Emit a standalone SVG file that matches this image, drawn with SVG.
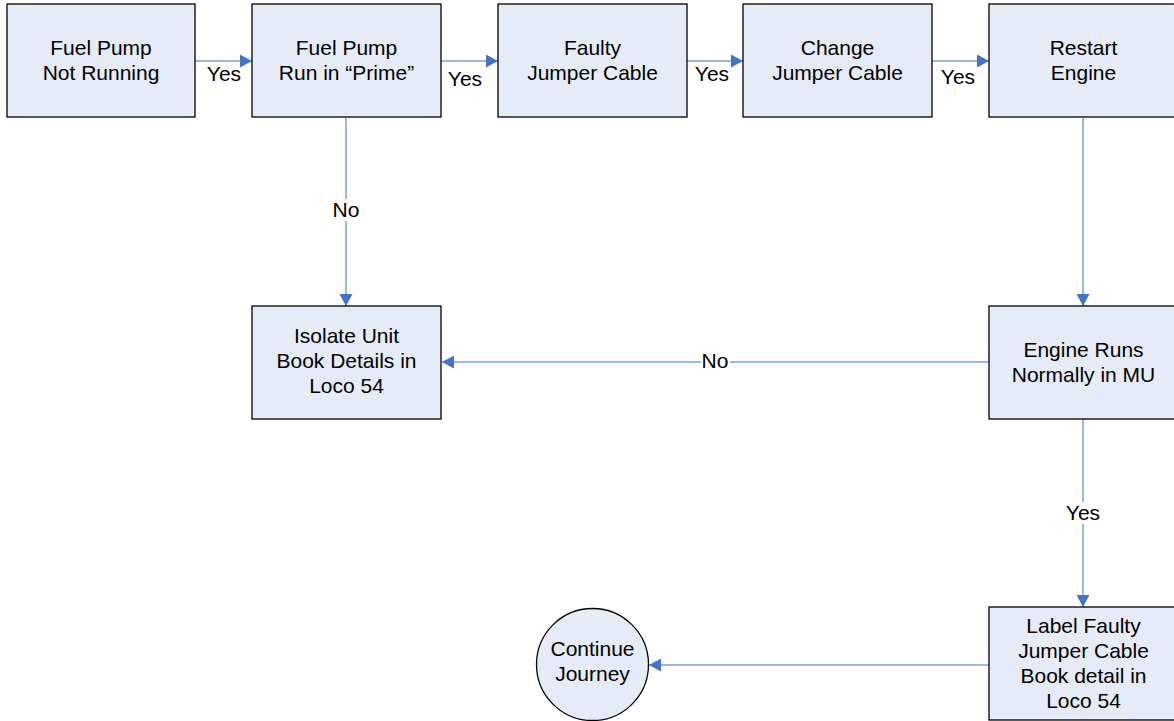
<svg xmlns="http://www.w3.org/2000/svg" width="1174" height="721" viewBox="0 0 1174 721">
  <style>
    .box { fill: #E6ECF7; stroke: #000000; stroke-width: 1.3; }
    .lbl { font-family: "Liberation Sans", Arial, sans-serif; font-size: 21px; fill: #000000; text-anchor: middle; }
    .edge { stroke: #7C9FD6; stroke-width: 1.5; fill: none; marker-end: url(#arrow); }
    .tag { font-family: "Liberation Sans", Arial, sans-serif; font-size: 21px; fill: #000000; text-anchor: middle; }
    .tagbg { fill: #FFFFFF; }
  </style>
  <defs>
    <marker id="arrow" viewBox="0 0 12 13" refX="12" refY="6.5" markerWidth="12" markerHeight="13" markerUnits="userSpaceOnUse" orient="auto">
      <path d="M0,0 L12,6.5 L0,13 Z" fill="#4472C4"/>
    </marker>
  </defs>
  <rect width="1174" height="721" fill="#FFFFFF"/>

  <g id="connectors">
    <line class="edge" x1="195" y1="61" x2="252" y2="61"/>
    <line class="edge" x1="441" y1="61" x2="498" y2="61"/>
    <line class="edge" x1="687" y1="61" x2="743" y2="61"/>
    <line class="edge" x1="932" y1="61" x2="989" y2="61"/>
    <line class="edge" x1="346" y1="118" x2="346" y2="306"/>
    <line class="edge" x1="1083" y1="118" x2="1083" y2="306"/>
    <line class="edge" x1="989" y1="362" x2="442" y2="362"/>
    <line class="edge" x1="1083" y1="419" x2="1083" y2="607"/>
    <line class="edge" x1="989" y1="665" x2="649" y2="665"/>

    <text class="tag" x="224" y="81">Yes</text>
    <text class="tag" x="465" y="86">Yes</text>
    <text class="tag" x="712" y="81">Yes</text>
    <text class="tag" x="958" y="84">Yes</text>

    <rect class="tagbg" x="331" y="199" width="30" height="22"/>
    <text class="tag" x="346" y="217">No</text>
    <rect class="tagbg" x="701" y="350" width="29" height="22"/>
    <text class="tag" x="715" y="368">No</text>
    <rect class="tagbg" x="1064" y="502" width="38" height="22"/>
    <text class="tag" x="1083" y="520">Yes</text>
  </g>

  <g id="fuel-pump-not-running">
    <rect class="box" x="7" y="4" width="188" height="113"/>
    <text class="lbl" x="101" y="55">Fuel Pump</text>
    <text class="lbl" x="101" y="80">Not Running</text>
  </g>

  <g id="fuel-pump-prime">
    <rect class="box" x="252" y="4" width="189" height="113"/>
    <text class="lbl" x="346.5" y="55">Fuel Pump</text>
    <text class="lbl" x="346.5" y="80">Run in “Prime”</text>
  </g>

  <g id="faulty-jumper-cable">
    <rect class="box" x="498" y="4" width="189" height="113"/>
    <text class="lbl" x="592.5" y="55">Faulty</text>
    <text class="lbl" x="592.5" y="80">Jumper Cable</text>
  </g>

  <g id="change-jumper-cable">
    <rect class="box" x="743" y="4" width="189" height="113"/>
    <text class="lbl" x="837.5" y="55">Change</text>
    <text class="lbl" x="837.5" y="80">Jumper Cable</text>
  </g>

  <g id="restart-engine">
    <rect class="box" x="989" y="4" width="189" height="113"/>
    <text class="lbl" x="1083.5" y="55">Restart</text>
    <text class="lbl" x="1083.5" y="80">Engine</text>
  </g>

  <g id="isolate-unit">
    <rect class="box" x="252" y="306" width="189" height="113"/>
    <text class="lbl" x="346.5" y="343">Isolate Unit</text>
    <text class="lbl" x="346.5" y="368">Book Details in</text>
    <text class="lbl" x="346.5" y="393">Loco 54</text>
  </g>

  <g id="engine-runs-normally">
    <rect class="box" x="989" y="306" width="189" height="113"/>
    <text class="lbl" x="1083.5" y="357">Engine Runs</text>
    <text class="lbl" x="1083.5" y="382">Normally in MU</text>
  </g>

  <g id="label-faulty-cable">
    <rect class="box" x="989" y="607" width="189" height="113"/>
    <text class="lbl" x="1083.5" y="633">Label Faulty</text>
    <text class="lbl" x="1083.5" y="658">Jumper Cable</text>
    <text class="lbl" x="1083.5" y="683">Book detail in</text>
    <text class="lbl" x="1083.5" y="708">Loco 54</text>
  </g>

  <g id="continue-journey">
    <circle class="box" cx="592.5" cy="664.5" r="56"/>
    <text class="lbl" x="592.5" y="656">Continue</text>
    <text class="lbl" x="592.5" y="681">Journey</text>
  </g>
</svg>
